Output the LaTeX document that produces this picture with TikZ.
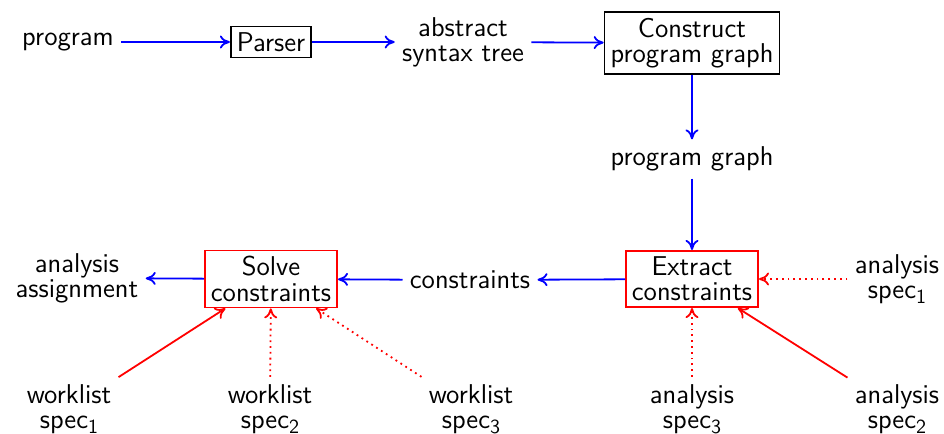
\documentclass[tikz,border=0pt]{standalone}
\usetikzlibrary{arrows.meta}
\begin{document}
\begin{tikzpicture}[x=0.5pt,y=-0.5pt,
  >={To[length=5pt,width=6.5pt]},
  txt/.style={font=\sffamily\fontsize{13.6}{12.6}\selectfont, align=center, inner sep=3.5pt},
  box/.style={txt, draw, line width=0.9pt, inner sep=3pt},
  rbox/.style={box, draw=red},
  barrow/.style={->, blue, line width=0.9pt},
  rarrow/.style={->, red, line width=0.9pt},
  rdot/.style={->, red, line width=0.9pt, dotted}]
\useasboundingbox (0,0) rectangle (944,434);
\newcommand{\sbs}[1]{\raisebox{-2.6pt}{\fontsize{10}{10}\selectfont #1}}
\node[txt] (prog) at (68,42) {program};
\node[box] (parser) at (271,42) {Parser};
\node[txt] (ast) at (463,42) {abstract\\syntax tree};
\node[box] (cpg) at (692,43) {Construct\\program graph};
\node[txt] (pg) at (692,159) {program graph};
\node[rbox] (ext) at (692,279) {Extract\\constraints};
\node[txt] (cons) at (470,280) {constraints};
\node[rbox] (solve) at (271,279) {Solve\\constraints};
\node[txt] (aa) at (77,278) {analysis\\assignment};
\node[txt] (as1) at (897,279) {analysis\\spec\sbs{1}};
\node[txt] (as3) at (692,409) {analysis\\spec\sbs{3}};
\node[txt] (as2) at (897,409) {analysis\\spec\sbs{2}};
\node[txt] (ws1) at (69,409) {worklist\\spec\sbs{1}};
\node[txt] (ws2) at (270,409) {worklist\\spec\sbs{2}};
\node[txt] (ws3) at (471,409) {worklist\\spec\sbs{3}};
\draw[barrow] (prog) -- (parser);
\draw[barrow] (parser) -- (ast);
\draw[barrow] (ast) -- (cpg);
\draw[barrow] (cpg) -- (pg);
\draw[barrow] (pg) -- (ext);
\draw[barrow] (ext) -- (cons);
\draw[barrow] (cons) -- (solve);
\draw[barrow] (solve) -- (aa);
\draw[rdot] (as1) -- (ext);
\draw[rdot] (as3) -- (ext);
\draw[rarrow] (as2) -- (ext);
\draw[rarrow] (ws1) -- (solve);
\draw[rdot] (ws2) -- (solve);
\draw[rdot] (ws3) -- (solve);
\end{tikzpicture}
\end{document}
